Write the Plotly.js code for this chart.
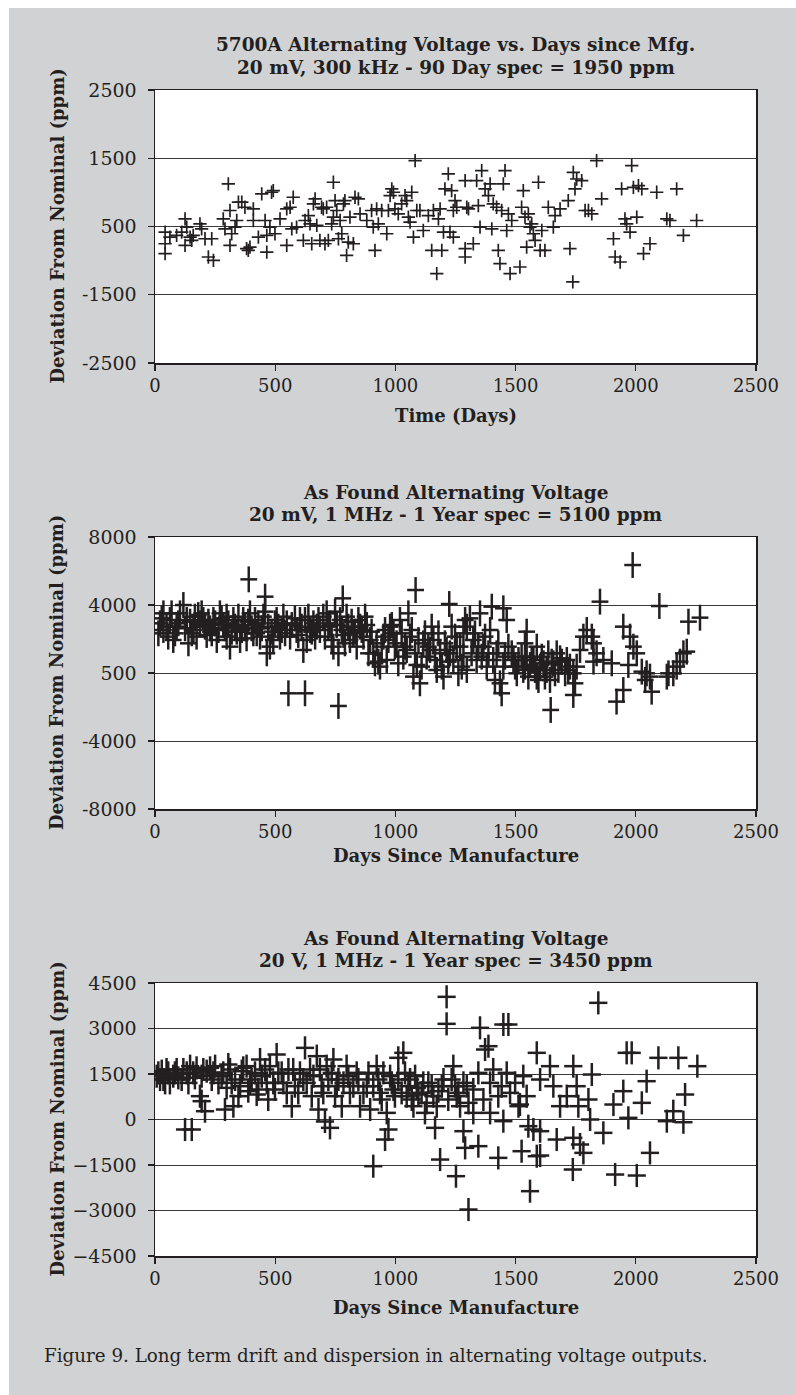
<!DOCTYPE html>
<html><head><meta charset="utf-8">
<script src="https://cdn.plot.ly/plotly-3.0.1.min.js"></script>
<style>
html,body{margin:0;padding:0;background:#ffffff;width:796px;height:1395px;overflow:hidden}
#chart{position:absolute;left:9px;top:8px;width:787px;height:1387px}
</style></head><body><div id="chart"></div>
<script>
// ---------- DATA ----------
const p1Days=[42,42,42,62,90,111,125,125,132,146,153,159,187,194,208,222,236,243,284,291,305,312,319,312,333,340,347,361,374,381,388,395,409,409,430,444,458,465,465,478,485,492,499,520,548,548,562,569,575,589,617,624,638,645,652,659,666,673,686,693,700,707,714,721,735,742,742,749,756,763,770,777,784,790,797,804,811,825,832,846,853,881,901,908,915,922,929,943,964,971,978,985,992,998,1012,1026,1040,1047,1054,1061,1068,1075,1082,1089,1102,1116,1137,1151,1158,1172,1179,1186,1193,1200,1206,1220,1227,1234,1241,1241,1248,1255,1290,1290,1290,1297,
1304,1324,1338,1345,1352,1359,1373,1387,1394,1401,1407,1421,1428,1435,1442,1449,1456,1463,1470,1477,1484,1518,1525,1532,1539,1546,1553,1560,1567,1574,1581,1595,1602,1609,1622,1636,1657,1664,1685,1719,1726,1738,1740,1747,1754,1775,1789,1803,1817,1837,1858,1907,1914,1935,1941,1955,1962,1976,1983,1990,2004,2011,2025,2032,2059,2087,2129,2142,2170,2198,2253];
const p1Dev=[-103,-316,-498,-194,-164,-103,141,-346,-12,-194,-255,-164,49,-42,-224,-559,-224,-620,141,-42,779,293,-133,-346,-12,110,445,445,353,-407,-437,-377,323,110,-194,597,110,-164,-468,-12,627,658,-133,141,323,-346,353,-42,536,-12,-255,110,201,49,-316,414,505,19,-255,353,323,-316,353,-255,49,810,171,475,293,-224,110,-133,414,475,-528,-285,171,-316,536,505,232,110,293,-12,-437,323,49,293,-133,293,566,688,627,323,232,414,566,475,171,80,627,-194,1205,293,293,-73,201,-437,293,-863,141,323,-437,-103,688,962,-103,658,293,-194,475,353,840,-407,-559,353,
323,-316,840,384,-12,1023,688,566,779,-42,414,353,-437,-681,293,779,1023,-73,232,-863,110,-742,353,658,171,-377,232,-12,49,-133,-255,810,-437,-73,-437,353,-12,201,323,475,-407,-1015,992,688,870,840,293,293,232,1205,505,-224,-559,-650,688,141,49,-103,1114,718,171,749,688,-498,-316,627,141,110,688,-164,110];

const p2Days=[390,458,555,624,763,1084,1224,781,
35,35,21,55,90,118,132,153,166,187,194,215,229,270,284,298,312,326,340,367,381,402,416,437,458,465,471,492,506,527,548,589,617,624,645,666,700,721,735,749,763,777,790,797,825,853,874,895,908,929,936,950,978,998,1019,1033,1054,1061,1075,1089,1102,1116,1130,1151,1172,1186,1200,1220,1234,1255,1276,1290,1297,
14,62,76,104,139,173,201,243,257,298,354,395,423,478,520,562,603,631,673,707,728,742,811,839,867,888,915,943,964,992,1012,1047,1082,1109,1144,1165,1193,1213,1241,1262,1283,
28,48,69,83,97,125,146,160,180,208,222,236,250,264,277,291,305,319,333,347,361,374,388,409,430,444,451,485,499,513,534,541,569,582,596,610,638,652,659,680,686,714,756,770,784,804,818,832,846,860,881,901,922,957,971,985,1005,1026,1040,1068,1096,1123,1137,1158,1179,1206,1227,1248,1269,1283,
1987,1851,2098,1646,1740,1920,1948,2066,2267,2219,2212,2184,2156,2136,1948,1976,1990,2004,2025,2045,2059,1796,1817,1824,1837,1824,1754,1740,1747,1546,1539,1449,1463,1401,1352,1310,1297,1442,1435,1414,1685,1706,1636,1588,1602,
1324,1338,1366,1380,1394,1421,1449,1470,1491,1505,1525,1539,1553,1567,1581,1595,1616,1622,1650,1664,1671,1713,1726,1768,1782,1865,1900,1969,2039,2129,2170,2198,
1317,1331,1345,1359,1373,1387,1407,1428,1456,1484,1498,1512,1532,1546,1560,1574,1588,1609,1629,1643,1657,1678,1692,1719];
const p2Dev=[5509,4490,-1194,-1194,-1939,4882,4059,4392,
3510,2530,2922,2138,2726,3998,3118,2334,3314,2922,3510,2236,2628,3510,2824,2138,1550,3118,2432,3118,2040,2628,3118,2138,3608,1158,2726,1942,3118,2530,2922,2530,1354,3118,2530,2138,3314,2726,1942,3608,1158,2530,1746,3314,2334,2726,3314,1942,1158,668,374,2138,2726,1550,3118,962,3510,2138,-214,472,-606,1746,962,2726,178,1158,-214,668,2726,1550,374,3118,178,
2334,3118,1942,3510,1746,2138,3118,3118,1942,3314,1942,3510,2334,1550,2138,2138,3118,1942,2726,2138,2922,1550,1942,1550,2138,1158,570,1550,766,2334,570,1354,1158,374,1354,766,374,1354,766,-18,962,
3216,2726,3510,2334,2922,2628,3020,2530,3412,2726,3020,2334,2922,2530,3216,2628,2922,2432,2726,3314,2530,2824,3020,2334,2922,2628,3314,2432,2922,2726,3314,2334,2824,3216,2236,2726,3314,2432,2922,3118,2530,3510,2824,3118,2236,2726,3020,2432,3118,2530,2824,2432,1746,2530,1942,2824,1746,2334,1550,2530,1942,2334,1550,1942,2334,1746,1158,2138,1550,2334,
6352,4196,3941,-2174,-1292,-1684,-1000,-1100,3255,3020,1256,668,-18,-18,2726,2138,1550,1158,80,-18,-214,2530,2138,1746,1158,668,374,-18,-606,2432,1746,3804,3118,3902,3510,3216,2726,-1194,-606,-410,864,-18,1158,1550,374,
1942,766,1550,374,2530,1158,374,1550,766,-18,962,374,-214,766,178,-410,570,-214,668,-18,1158,766,374,1354,2138,766,570,472,-410,-214,374,1158,
1158,2334,1550,962,2138,1158,766,1746,962,1158,374,766,178,962,472,766,-214,962,178,-410,570,178,668,178];

const p3Days=[1213,1213,624,125,153,908,1186,1252,1304,957,971,728,707,1033,1012,1241,1283,1290,1165,208,194,
7,21,28,42,55,76,90,111,132,146,166,187,201,229,243,277,291,305,319,326,347,361,381,388,402,423,437,458,471,492,506,527,548,569,575,596,617,645,652,673,680,693,714,742,749,763,777,797,811,839,853,881,895,922,936,950,964,985,998,1047,1061,1075,1089,1109,1123,1137,1158,1172,1193,1234,1255,1269,1297,1304,
14,35,48,62,83,97,118,139,159,173,194,215,236,250,264,284,298,312,333,354,367,395,416,430,444,465,478,499,513,534,555,582,603,631,659,686,700,721,735,756,784,804,825,846,867,888,908,929,943,978,992,1012,1026,1040,1054,1068,1082,1096,1116,1130,1151,1179,1200,1220,1248,1262,1283,
1844,1352,1449,1470,1373,1387,1560,1738,1914,2004,1588,1602,1525,1428,1345,1782,1768,1740,1671,1865,2059,1588,1643,1740,1817,1962,1983,2094,2177,2256,2045,2025,2205,2156,2129,2198,1948,1907,1969,1810,1553,1574,1602,1449,1518,1546,1602,1657,1685,1713,1761,1803,1754,1324,1345,1366,1394,1407,1428,1442,1463,1477,1498,1512,1532,1324,1394];
const p3Dev=[4044,3154,2362,-330,-330,-1539,-1320,-1869,-2968,-660,-330,-275,-66,2198,2033,1758,-385,-935,-275,274,604,
1428,1318,1593,1208,1538,1428,1648,1318,1538,1758,1373,769,1648,1703,1538,1428,329,1813,1208,439,769,1593,1758,934,1318,824,1978,1648,659,1208,2143,1538,879,439,1648,879,1318,1648,769,2088,329,1098,1758,1978,769,1318,439,1758,879,1538,439,1098,329,1758,879,1538,219,1208,769,769,1318,439,1043,879,219,1208,769,439,1098,1318,769,439,1098,549,
1538,1318,1648,1208,1538,1373,1648,1208,1538,1703,1428,1593,1318,1758,1208,1538,1043,1648,1318,1098,1703,1208,1538,989,1428,1208,1758,989,1538,1208,1648,1098,1538,1208,1428,1648,879,1318,1538,1098,1208,1428,1098,1318,879,1538,1098,1318,659,1428,989,1318,879,1538,1098,659,1428,824,1208,549,1098,934,1318,659,1098,879,1208,
3846,3022,3132,3132,2307,2417,-2363,-1649,-1814,-1847,-1210,-1188,-1045,-1265,-879,-1100,-824,-605,-660,-440,-1100,2198,1758,1758,1483,2198,2198,2033,2033,1758,1263,549,824,274,-55,-89,934,494,55,0,-220,-330,-385,-55,494,769,1318,1098,439,769,439,659,1098,989,1538,659,1208,1648,769,1098,1538,879,1208,439,1428,219,219];

const xTickVals=[0,500,1000,1500,2000,2500];
const p1TickVals=[-2500,-1250,0,1250,2500];
const p1TickText=['-2500','-1500','500','1500','2500'];
const p2TickVals=[-8000,-4000,0,4000,8000];
const p2TickText=['-8000','-4000','500','4000','8000'];
const p3TickVals=[-4500,-3000,-1500,0,1500,3000,4500];

const titles=[
  ['5700A Alternating Voltage vs. Days since Mfg.','20 mV, 300 kHz - 90 Day spec = 1950 ppm'],
  ['As Found Alternating Voltage','20 mV, 1 MHz - 1 Year spec = 5100 ppm'],
  ['As Found Alternating Voltage','20 V, 1 MHz - 1 Year spec = 3450 ppm']
];
const xTitles=['Time (Days)','Days Since Manufacture','Days Since Manufacture'];
const yTitle='Deviation From Nominal (ppm)';
const caption='Figure 9. Long term drift and dispersion in alternating voltage outputs.';

// ---------- LAYOUT ----------
const W=787,H=1387,OX=9,OY=8;
const fx=x=>(x-OX)/W, fy=y=>1-(y-OY)/H;
const INK='#231f20', FONT='"DejaVu Serif", serif';
const L=155,R=756;
const boxes=[{top:90,bottom:363,xl:415},{top:537,bottom:809,xl:855},{top:983,bottom:1256,xl:1307}];

function xax(i){
  return {domain:[fx(L),fx(R)],anchor:'y'+(i?i+1:''),range:[0,2500],tickvals:xTickVals,
    ticks:'outside',ticklen:6,tickwidth:1.3,tickcolor:INK,showline:true,linecolor:INK,linewidth:1.5,
    mirror:true,showgrid:false,zeroline:false,automargin:false,ticklabelstandoff:0,
    tickfont:{family:FONT,size:18,color:INK}};
}
function yax(i,range,vals,text){
  const b=boxes[i];
  const o={domain:[fy(b.bottom),fy(b.top)],anchor:'x'+(i?i+1:''),range:range,tickvals:vals,
    ticks:'outside',ticklen:6,tickwidth:1.3,tickcolor:INK,showline:true,linecolor:INK,linewidth:1.5,
    mirror:true,showgrid:true,gridcolor:'#3a3a3a',gridwidth:1,zeroline:false,automargin:false,
    ticklabelstandoff:7,tickfont:{family:FONT,size:19,color:INK}};
  if(text) o.ticktext=text;
  return o;
}

const data=[
  {x:p1Days,y:p1Dev,xaxis:'x',yaxis:'y',type:'scatter',mode:'markers',hoverinfo:'skip',
   marker:{symbol:'cross-thin-open',size:9.5,color:INK,line:{color:INK,width:1.7}}},
  {x:p2Days,y:p2Dev,xaxis:'x2',yaxis:'y2',type:'scatter',mode:'markers',hoverinfo:'skip',
   marker:{symbol:'line-ns-open',size:18.5,color:INK,line:{color:INK,width:2.5}}},
  {x:p2Days,y:p2Dev,xaxis:'x2',yaxis:'y2',type:'scatter',mode:'markers',hoverinfo:'skip',
   marker:{symbol:'line-ew-open',size:12,color:INK,line:{color:INK,width:2.5}}},
  {x:p3Days,y:p3Dev,xaxis:'x3',yaxis:'y3',type:'scatter',mode:'markers',hoverinfo:'skip',
   marker:{symbol:'line-ns-open',size:16.5,color:INK,line:{color:INK,width:2.5}}},
  {x:p3Days,y:p3Dev,xaxis:'x3',yaxis:'y3',type:'scatter',mode:'markers',hoverinfo:'skip',
   marker:{symbol:'line-ew-open',size:13,color:INK,line:{color:INK,width:2.5}}}
];

const ann=[];
const cx=(fx(L)+fx(R))/2;
boxes.forEach((b,i)=>{
  ann.push({text:'<b>'+titles[i][0]+'</b>',xref:'paper',yref:'paper',x:cx,y:fy(b.top-45),xanchor:'center',yanchor:'middle',showarrow:false,font:{family:FONT,size:18.5,color:INK}});
  ann.push({text:'<b>'+titles[i][1]+'</b>',xref:'paper',yref:'paper',x:cx,y:fy(b.top-23),xanchor:'center',yanchor:'middle',showarrow:false,font:{family:FONT,size:18.5,color:INK}});
  ann.push({text:'<b>'+xTitles[i]+'</b>',xref:'paper',yref:'paper',x:cx,y:fy(b.xl),xanchor:'center',yanchor:'middle',showarrow:false,font:{family:FONT,size:18,color:INK}});
  ann.push({text:'<b>'+yTitle+'</b>',xref:'paper',yref:'paper',x:fx(57),y:fy((b.top+b.bottom)/2),xanchor:'center',yanchor:'middle',textangle:-90,showarrow:false,font:{family:FONT,size:18,color:INK}});
});
ann.push({text:caption,xref:'paper',yref:'paper',x:fx(42),y:fy(1355),xanchor:'left',yanchor:'middle',showarrow:false,font:{family:FONT,size:18.3,color:INK}});

const layout={width:W,height:H,margin:{l:0,r:0,t:0,b:0,pad:0},paper_bgcolor:'#d1d2d4',plot_bgcolor:'#ffffff',
  showlegend:false,
  xaxis:xax(0),xaxis2:xax(1),xaxis3:xax(2),
  yaxis:yax(0,[-2500,2500],p1TickVals,p1TickText),
  yaxis2:yax(1,[-8000,8000],p2TickVals,p2TickText),
  yaxis3:yax(2,[-4500,4500],p3TickVals,null),
  annotations:ann};

Plotly.newPlot('chart',data,layout,{staticPlot:true,displayModeBar:false});
</script></body></html>
